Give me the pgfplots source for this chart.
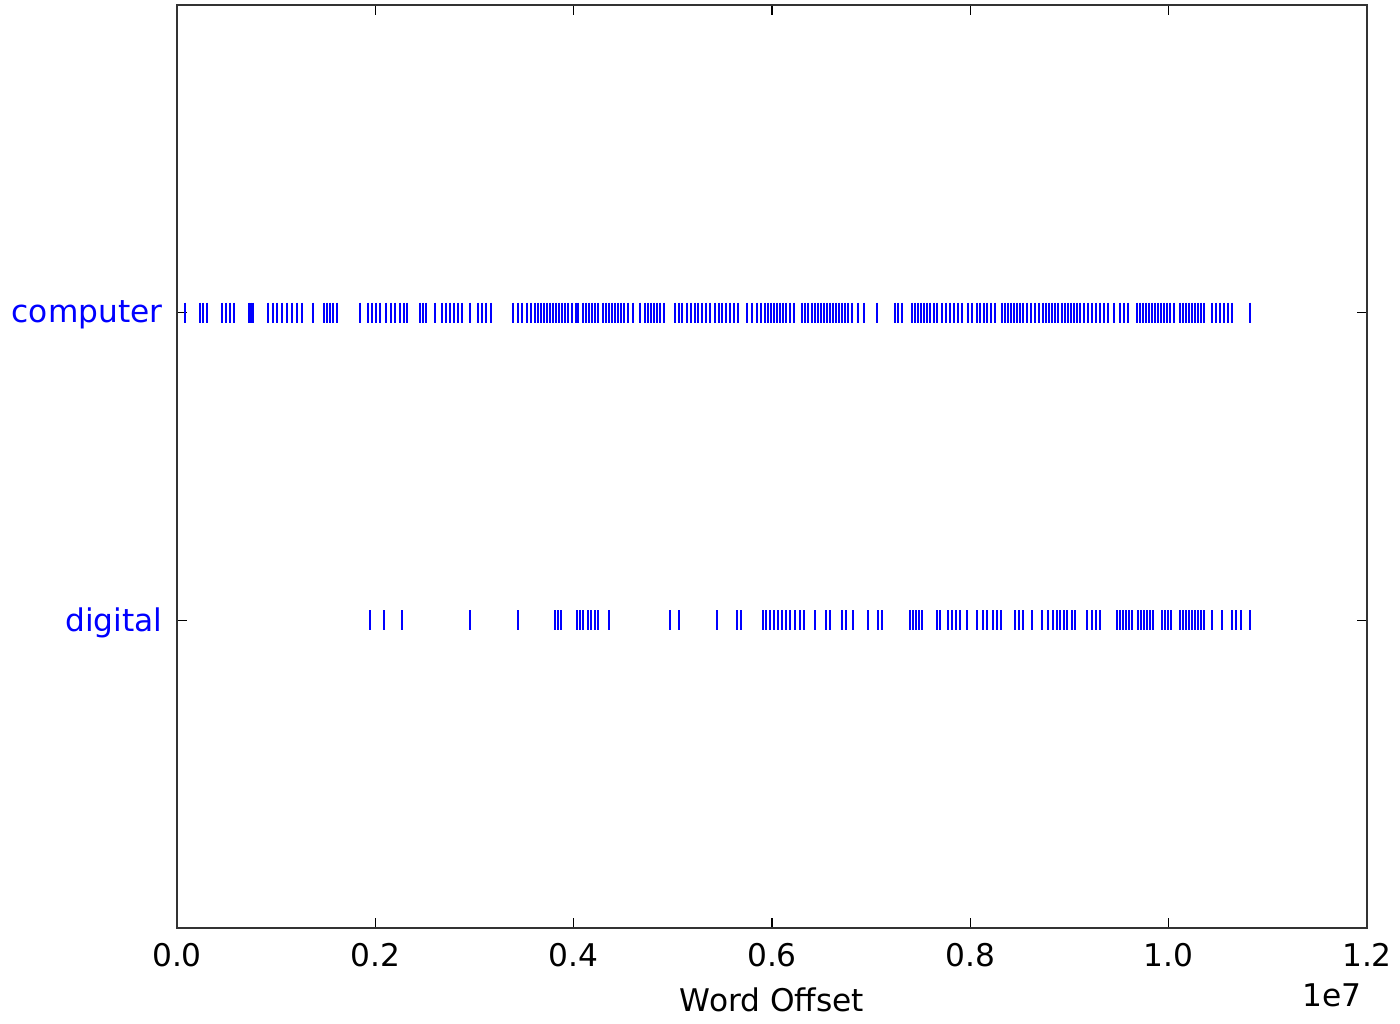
\documentclass[border=0pt]{standalone}
\usepackage{fontspec}
\setmainfont{DejaVu Sans}
\usepackage{pgfplots}
\usepackage{pgfplotstable}
\pgfplotsset{compat=1.18}
\definecolor{mplblue}{HTML}{0000FF}
% word offsets in units of 1e4 words
\pgfplotstableread{
x y
8.1 1
23.2 1
26.2 1
30.3 1
45.4 1
49.4 1
53.4 1
57.5 1
72.6 1
74.6 1
76.6 1
91.8 1
96.8 1
100.8 1
105.9 1
110.9 1
116.0 1
121.0 1
126.1 1
137.1 1
148.2 1
151.3 1
154.3 1
157.3 1
161.3 1
184.5 1
192.6 1
196.6 1
200.7 1
204.7 1
210.8 1
215.8 1
219.8 1
224.9 1
228.9 1
231.9 1
245.0 1
248.1 1
251.1 1
260.2 1
267.2 1
271.3 1
275.3 1
279.3 1
283.4 1
287.4 1
295.5 1
303.5 1
307.6 1
311.6 1
316.6 1
338.8 1
343.9 1
347.9 1
352.9 1
357.0 1
361.0 1
364.0 1
367.1 1
370.1 1
373.1 1
376.1 1
379.2 1
382.2 1
385.2 1
388.2 1
391.3 1
394.3 1
398.3 1
402.4 1
404.4 1
409.4 1
412.4 1
415.5 1
418.5 1
421.5 1
424.5 1
429.6 1
432.6 1
435.6 1
438.7 1
441.7 1
444.7 1
447.7 1
450.8 1
454.8 1
459.8 1
466.9 1
471.9 1
475.0 1
478.0 1
481.0 1
484.0 1
487.1 1
491.1 1
502.2 1
506.2 1
509.2 1
514.3 1
518.3 1
522.4 1
525.4 1
529.4 1
533.4 1
537.5 1
542.5 1
546.6 1
549.6 1
553.6 1
557.6 1
561.7 1
565.7 1
574.8 1
579.8 1
584.9 1
588.9 1
592.9 1
596.0 1
599.0 1
602.0 1
605.0 1
608.1 1
611.1 1
614.1 1
618.1 1
622.2 1
630.3 1
633.3 1
636.3 1
640.3 1
643.4 1
646.4 1
649.4 1
652.4 1
655.5 1
658.5 1
661.5 1
664.5 1
667.6 1
670.6 1
673.6 1
676.6 1
680.7 1
686.7 1
692.8 1
705.9 1
724.0 1
727.1 1
731.1 1
741.2 1
744.2 1
747.2 1
750.2 1
753.3 1
756.3 1
759.3 1
763.4 1
766.4 1
771.4 1
775.5 1
779.5 1
783.5 1
787.6 1
791.6 1
797.6 1
801.7 1
806.7 1
809.7 1
813.8 1
816.8 1
820.8 1
824.9 1
831.9 1
835.0 1
838.0 1
841.0 1
844.0 1
847.1 1
850.1 1
853.1 1
857.1 1
861.2 1
865.2 1
869.2 1
873.3 1
876.3 1
879.3 1
882.4 1
885.4 1
888.4 1
892.4 1
895.5 1
898.5 1
901.5 1
904.5 1
907.6 1
910.6 1
914.6 1
918.7 1
922.7 1
926.7 1
930.8 1
934.8 1
938.8 1
944.9 1
950.9 1
955.0 1
959.0 1
968.1 1
971.1 1
974.1 1
977.1 1
980.2 1
983.2 1
986.2 1
989.2 1
992.3 1
995.3 1
998.3 1
1001.3 1
1005.4 1
1011.4 1
1014.5 1
1017.5 1
1020.5 1
1023.5 1
1026.6 1
1029.6 1
1032.6 1
1035.6 1
1043.7 1
1047.7 1
1051.8 1
1055.8 1
1059.8 1
1063.9 1
1082.0 1
}\computer
\pgfplotstableread{
x y
194.6 0
208.7 0
226.9 0
295.5 0
343.9 0
381.2 0
384.2 0
387.2 0
403.4 0
406.4 0
409.4 0
414.5 0
417.5 0
421.5 0
424.5 0
435.6 0
497.1 0
506.2 0
544.5 0
564.7 0
568.7 0
590.9 0
593.9 0
598.0 0
602.0 0
606.0 0
610.1 0
614.1 0
618.1 0
623.2 0
628.2 0
632.3 0
643.4 0
654.5 0
658.5 0
670.6 0
674.6 0
681.7 0
696.8 0
706.9 0
710.9 0
739.2 0
742.2 0
745.2 0
748.2 0
751.3 0
766.4 0
769.4 0
777.5 0
781.5 0
785.5 0
789.6 0
796.6 0
806.7 0
812.8 0
816.8 0
822.9 0
826.9 0
830.9 0
845.0 0
849.1 0
853.1 0
862.2 0
872.3 0
878.3 0
883.4 0
887.4 0
890.4 0
894.5 0
897.5 0
902.5 0
905.5 0
917.6 0
922.7 0
926.7 0
930.8 0
947.9 0
950.9 0
954.0 0
957.0 0
960.0 0
963.0 0
969.1 0
972.1 0
975.1 0
978.1 0
981.2 0
984.2 0
993.3 0
996.3 0
999.3 0
1002.4 0
1011.4 0
1014.5 0
1017.5 0
1020.5 0
1023.5 0
1026.6 0
1029.6 0
1032.6 0
1035.6 0
1043.7 0
1053.8 0
1063.9 0
1067.9 0
1072.9 0
1082.0 0
}\digital
\begin{document}
\begin{tikzpicture}[font=\fontsize{12.5}{15}\selectfont]
\begin{axis}[
  name=a,
  scale only axis,
  width=476pt, height=369.2pt,
  xmin=0, xmax=1200, ymin=-1, ymax=2,
  xtick={0,200,400,600,800,1000,1200},
  xticklabels={0.0,0.2,0.4,0.6,0.8,1.0,1.2},
  ytick={0,1},
  yticklabels={digital,computer},
  tick align=inside,
  major tick length=4pt,
  major tick style={black, line width=0.5pt},
  axis line style={black!80, line width=0.9pt},
  xticklabel style={anchor=center, yshift=-10.8pt, inner sep=0pt},
  yticklabel style={anchor=east, inner sep=0pt, xshift=-5.6pt, yshift=-1pt, text=mplblue},
  xlabel={Word Offset},
  every axis x label/.style={at={(axis description cs:0.5,0)}, anchor=center, yshift=-28.8pt},
  clip=false,
]
\addplot[only marks, mark=|, mark size=4pt, draw=mplblue, mark options={line width=0.8pt, draw=mplblue}] table[x=x,y=y] {\computer};
\addplot[only marks, mark=|, mark size=4pt, draw=mplblue, mark options={line width=0.8pt, draw=mplblue}] table[x=x,y=y] {\digital};
\end{axis}
\node[anchor=east, inner sep=0pt] at ([xshift=-2pt, yshift=-26.8pt]a.south east) {1e7};
\pgfresetboundingbox
\path ([xshift=-70.8pt,yshift=-38.4pt]a.south west) rectangle ([xshift=13.2pt,yshift=2pt]a.north east);
\end{tikzpicture}
\end{document}
